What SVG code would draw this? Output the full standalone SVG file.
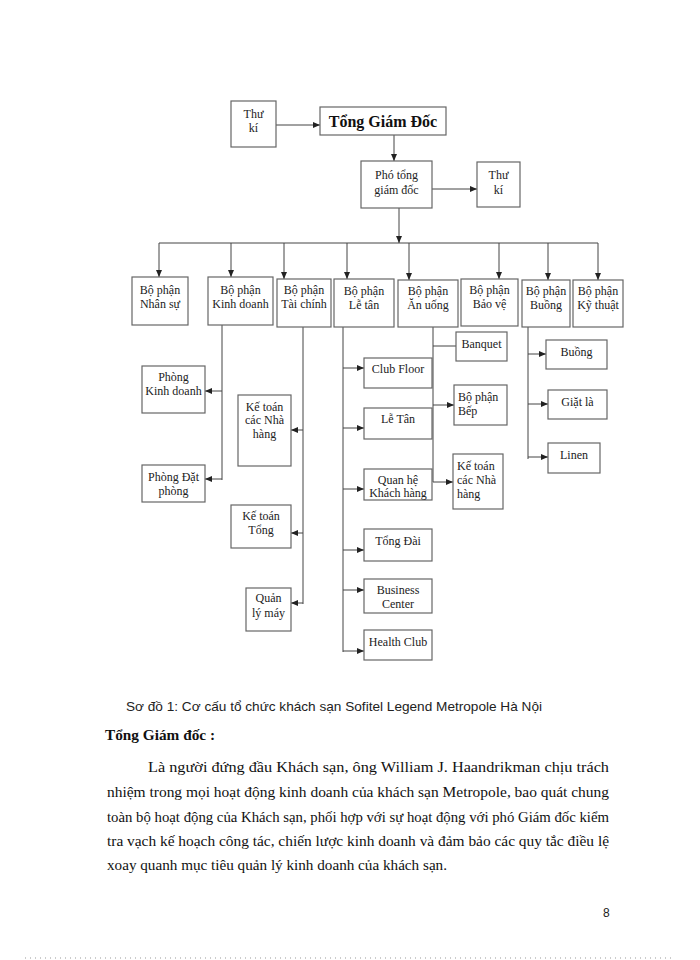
<svg xmlns="http://www.w3.org/2000/svg" width="700" height="960" viewBox="0 0 700 960">
<defs>
<marker id="ah" markerWidth="7" markerHeight="6" refX="7" refY="3" orient="auto" markerUnits="userSpaceOnUse">
<path d="M0,0 L7,3 L0,6 Z" fill="#222"/>
</marker>
<style>
.box{fill:#fff;stroke:#666;stroke-width:1.2}
.t{font-family:"Liberation Serif","Times New Roman",serif;font-size:12px;fill:#222;text-anchor:middle}
.tl{font-family:"Liberation Serif","Times New Roman",serif;font-size:12px;fill:#222}
.c{fill:none;stroke:#444;stroke-width:1}
.a{fill:none;stroke:#444;stroke-width:1;marker-end:url(#ah)}
.p{font-family:"Liberation Serif","Times New Roman",serif;font-size:15px;fill:#111}
</style>
</defs>
<rect width="700" height="960" fill="#fff"/>

<g id="connectors">
<line class="a" x1="276" y1="125" x2="320" y2="125"/>
<line class="a" x1="394" y1="135" x2="394" y2="161"/>
<line class="a" x1="432" y1="189" x2="477" y2="189"/>
<line class="a" x1="399" y1="208" x2="399" y2="243"/>
<line class="c" x1="159" y1="243" x2="598" y2="243"/>
<line class="a" x1="159" y1="243" x2="159" y2="277"/>
<line class="a" x1="231" y1="243" x2="231" y2="277"/>
<line class="a" x1="284" y1="243" x2="284" y2="279"/>
<line class="a" x1="347" y1="243" x2="347" y2="279"/>
<line class="a" x1="409" y1="243" x2="409" y2="280"/>
<line class="a" x1="499" y1="243" x2="499" y2="279"/>
<line class="a" x1="548" y1="243" x2="548" y2="280"/>
<line class="a" x1="598" y1="243" x2="598" y2="280"/>
<!-- Kinh doanh -->
<line class="c" x1="222" y1="325" x2="222" y2="480"/>
<line class="a" x1="222" y1="391" x2="205" y2="391"/>
<line class="a" x1="222" y1="479" x2="205" y2="479"/>
<!-- Tai chinh -->
<line class="c" x1="303" y1="327" x2="303" y2="604"/>
<line class="a" x1="303" y1="430" x2="291" y2="430"/>
<line class="a" x1="303" y1="533" x2="291" y2="533"/>
<line class="a" x1="303" y1="603" x2="291" y2="603"/>
<!-- Le tan -->
<line class="c" x1="343" y1="327" x2="343" y2="652"/>
<line class="a" x1="343" y1="368" x2="364" y2="368"/>
<line class="a" x1="343" y1="428" x2="364" y2="428"/>
<line class="a" x1="343" y1="489" x2="364" y2="489"/>
<line class="a" x1="343" y1="550" x2="364" y2="550"/>
<line class="a" x1="343" y1="590" x2="364" y2="590"/>
<line class="a" x1="343" y1="651" x2="364" y2="651"/>
<!-- An uong -->
<line class="c" x1="433" y1="327" x2="433" y2="482"/>
<line class="c" x1="433" y1="346" x2="456" y2="346"/>
<line class="a" x1="433" y1="405" x2="454" y2="405"/>
<line class="a" x1="433" y1="482" x2="453" y2="482"/>
<!-- Buong -->
<line class="c" x1="528" y1="327" x2="528" y2="459"/>
<line class="a" x1="528" y1="354" x2="546" y2="354"/>
<line class="a" x1="528" y1="404" x2="548" y2="404"/>
<line class="a" x1="528" y1="457" x2="548" y2="457"/>
</g>

<g id="thuki1"><rect class="box" x="231" y="101" width="45" height="46"/><text class="t" x="253.5" y="118">Thư</text><text class="t" x="253.5" y="132">kí</text></g>
<g id="tgd"><rect class="box" x="320" y="107" width="126" height="28"/><text class="t" x="383" y="127" style="font-size:16px;font-weight:bold;fill:#111">Tổng Giám Đốc</text></g>
<g id="ptgd"><rect class="box" x="361" y="161" width="71" height="47"/><text class="t" x="396.5" y="179">Phó tổng</text><text class="t" x="396.5" y="194">giám đốc</text></g>
<g id="thuki2"><rect class="box" x="477" y="162" width="43" height="45"/><text class="t" x="498.5" y="179">Thư</text><text class="t" x="498.5" y="194">kí</text></g>

<g id="bp-nhansu"><rect class="box" x="132" y="277" width="56" height="48"/><text class="t" x="160" y="294">Bộ phận</text><text class="t" x="160" y="308">Nhân sự</text></g>
<g id="bp-kinhdoanh"><rect class="box" x="208" y="277" width="65" height="48"/><text class="t" x="240.5" y="294">Bộ phận</text><text class="t" x="240.5" y="308">Kinh doanh</text></g>
<g id="bp-taichinh"><rect class="box" x="277" y="279" width="54" height="48"/><text class="t" x="304" y="294">Bộ phận</text><text class="t" x="304" y="308">Tài chính</text></g>
<g id="bp-letan"><rect class="box" x="334" y="279" width="60" height="48"/><text class="t" x="364" y="295">Bộ phận</text><text class="t" x="364" y="309">Lễ tân</text></g>
<g id="bp-anuong"><rect class="box" x="398" y="280" width="60" height="47"/><text class="t" x="428" y="295">Bộ phận</text><text class="t" x="428" y="309">Ăn uống</text></g>
<g id="bp-baove"><rect class="box" x="461" y="279" width="57" height="47"/><text class="t" x="489.5" y="294">Bộ phận</text><text class="t" x="489.5" y="308">Bảo vệ</text></g>
<g id="bp-buong"><rect class="box" x="522" y="280" width="48" height="47"/><text class="t" x="546" y="295">Bộ phận</text><text class="t" x="546" y="309">Buồng</text></g>
<g id="bp-kythuat"><rect class="box" x="573" y="280" width="50" height="47"/><text class="t" x="598" y="295">Bộ phận</text><text class="t" x="598" y="309">Kỹ thuật</text></g>

<g id="phong-kd"><rect class="box" x="142" y="366" width="63" height="47"/><text class="t" x="173.5" y="381">Phòng</text><text class="t" x="173.5" y="395">Kinh doanh</text></g>
<g id="phong-dp"><rect class="box" x="142" y="465" width="63" height="37"/><text class="t" x="173.5" y="481">Phòng Đặt</text><text class="t" x="173.5" y="495">phòng</text></g>

<g id="kt-nhahang1"><rect class="box" x="238" y="395" width="53" height="71"/><text class="t" x="264.5" y="411">Kế toán</text><text class="t" x="264.5" y="424">các Nhà</text><text class="t" x="264.5" y="438">hàng</text></g>
<g id="kt-tong"><rect class="box" x="231" y="505" width="60" height="43"/><text class="t" x="261" y="520">Kế toán</text><text class="t" x="261" y="534">Tổng</text></g>
<g id="ql-may"><rect class="box" x="246" y="588" width="45" height="43"/><text class="t" x="268.5" y="602">Quản</text><text class="t" x="268.5" y="617">lý máy</text></g>

<g id="club-floor"><rect class="box" x="364" y="358" width="68" height="30"/><text class="t" x="398" y="373">Club Floor</text></g>
<g id="le-tan"><rect class="box" x="364" y="408" width="68" height="31"/><text class="t" x="398" y="423">Lễ Tân</text></g>
<g id="quan-he"><rect class="box" x="364" y="469" width="68" height="31"/><text class="t" x="398" y="484">Quan hệ</text><text class="t" x="398" y="497">Khách hàng</text></g>
<g id="tong-dai"><rect class="box" x="364" y="529" width="68" height="32"/><text class="t" x="398" y="545">Tổng Đài</text></g>
<g id="business"><rect class="box" x="364" y="579" width="68" height="34"/><text class="t" x="398" y="594">Business</text><text class="t" x="398" y="608">Center</text></g>
<g id="health"><rect class="box" x="364" y="630" width="68" height="30"/><text class="t" x="398" y="646">Health Club</text></g>

<g id="banquet"><rect class="box" x="456" y="332" width="51" height="29"/><text class="t" x="481.5" y="348">Banquet</text></g>
<g id="bp-bep"><rect class="box" x="454" y="385" width="53" height="40"/><text class="tl" x="458" y="401">Bộ phận</text><text class="tl" x="458" y="415">Bếp</text></g>
<g id="kt-nhahang2"><rect class="box" x="453" y="454" width="50" height="55"/><text class="tl" x="457" y="470">Kế toán</text><text class="tl" x="457" y="484">các Nhà</text><text class="tl" x="457" y="498">hàng</text></g>

<g id="buong"><rect class="box" x="546" y="340" width="61" height="29"/><text class="t" x="576.5" y="356">Buồng</text></g>
<g id="giat-la"><rect class="box" x="548" y="390" width="59" height="29"/><text class="t" x="577.5" y="406">Giặt là</text></g>
<g id="linen"><rect class="box" x="548" y="443" width="52" height="30"/><text class="t" x="574" y="459">Linen</text></g>

<text x="126" y="711" style="font-family:'Liberation Sans',Arial,sans-serif;font-size:13px;fill:#222" textLength="416" lengthAdjust="spacingAndGlyphs">Sơ đồ 1: Cơ cấu tổ chức khách sạn Sofitel Legend  Metropole Hà Nội</text>
<text x="105" y="740" style="font-family:'Liberation Serif',serif;font-size:15px;font-weight:bold;fill:#111" textLength="110" lengthAdjust="spacingAndGlyphs">Tổng Giám đốc :</text>
<text class="p" x="148" y="772" textLength="461" lengthAdjust="spacingAndGlyphs">Là người đứng đầu Khách sạn, ông William J. Haandrikman  chịu trách</text>
<text class="p" x="107" y="797" textLength="502" lengthAdjust="spacingAndGlyphs">nhiệm trong mọi hoạt động kinh doanh của khách sạn Metropole, bao quát chung</text>
<text class="p" x="107" y="822" textLength="502" lengthAdjust="spacingAndGlyphs">toàn bộ hoạt động của Khách sạn, phối hợp với sự hoạt động với phó Giám đốc kiểm</text>
<text class="p" x="107" y="846" textLength="502" lengthAdjust="spacingAndGlyphs">tra vạch kế hoạch công tác, chiến lược kinh doanh và đảm bảo các quy tắc điều lệ</text>
<text class="p" x="107" y="870" textLength="340" lengthAdjust="spacingAndGlyphs">xoay quanh mục tiêu quản lý kinh doanh của khách sạn.</text>
<text x="603" y="917" style="font-family:'Liberation Sans',Arial,sans-serif;font-size:12px;fill:#222">8</text>
<line x1="25" y1="958" x2="672" y2="958" stroke="#999" stroke-width="1" stroke-dasharray="1,4"/>
</svg>
